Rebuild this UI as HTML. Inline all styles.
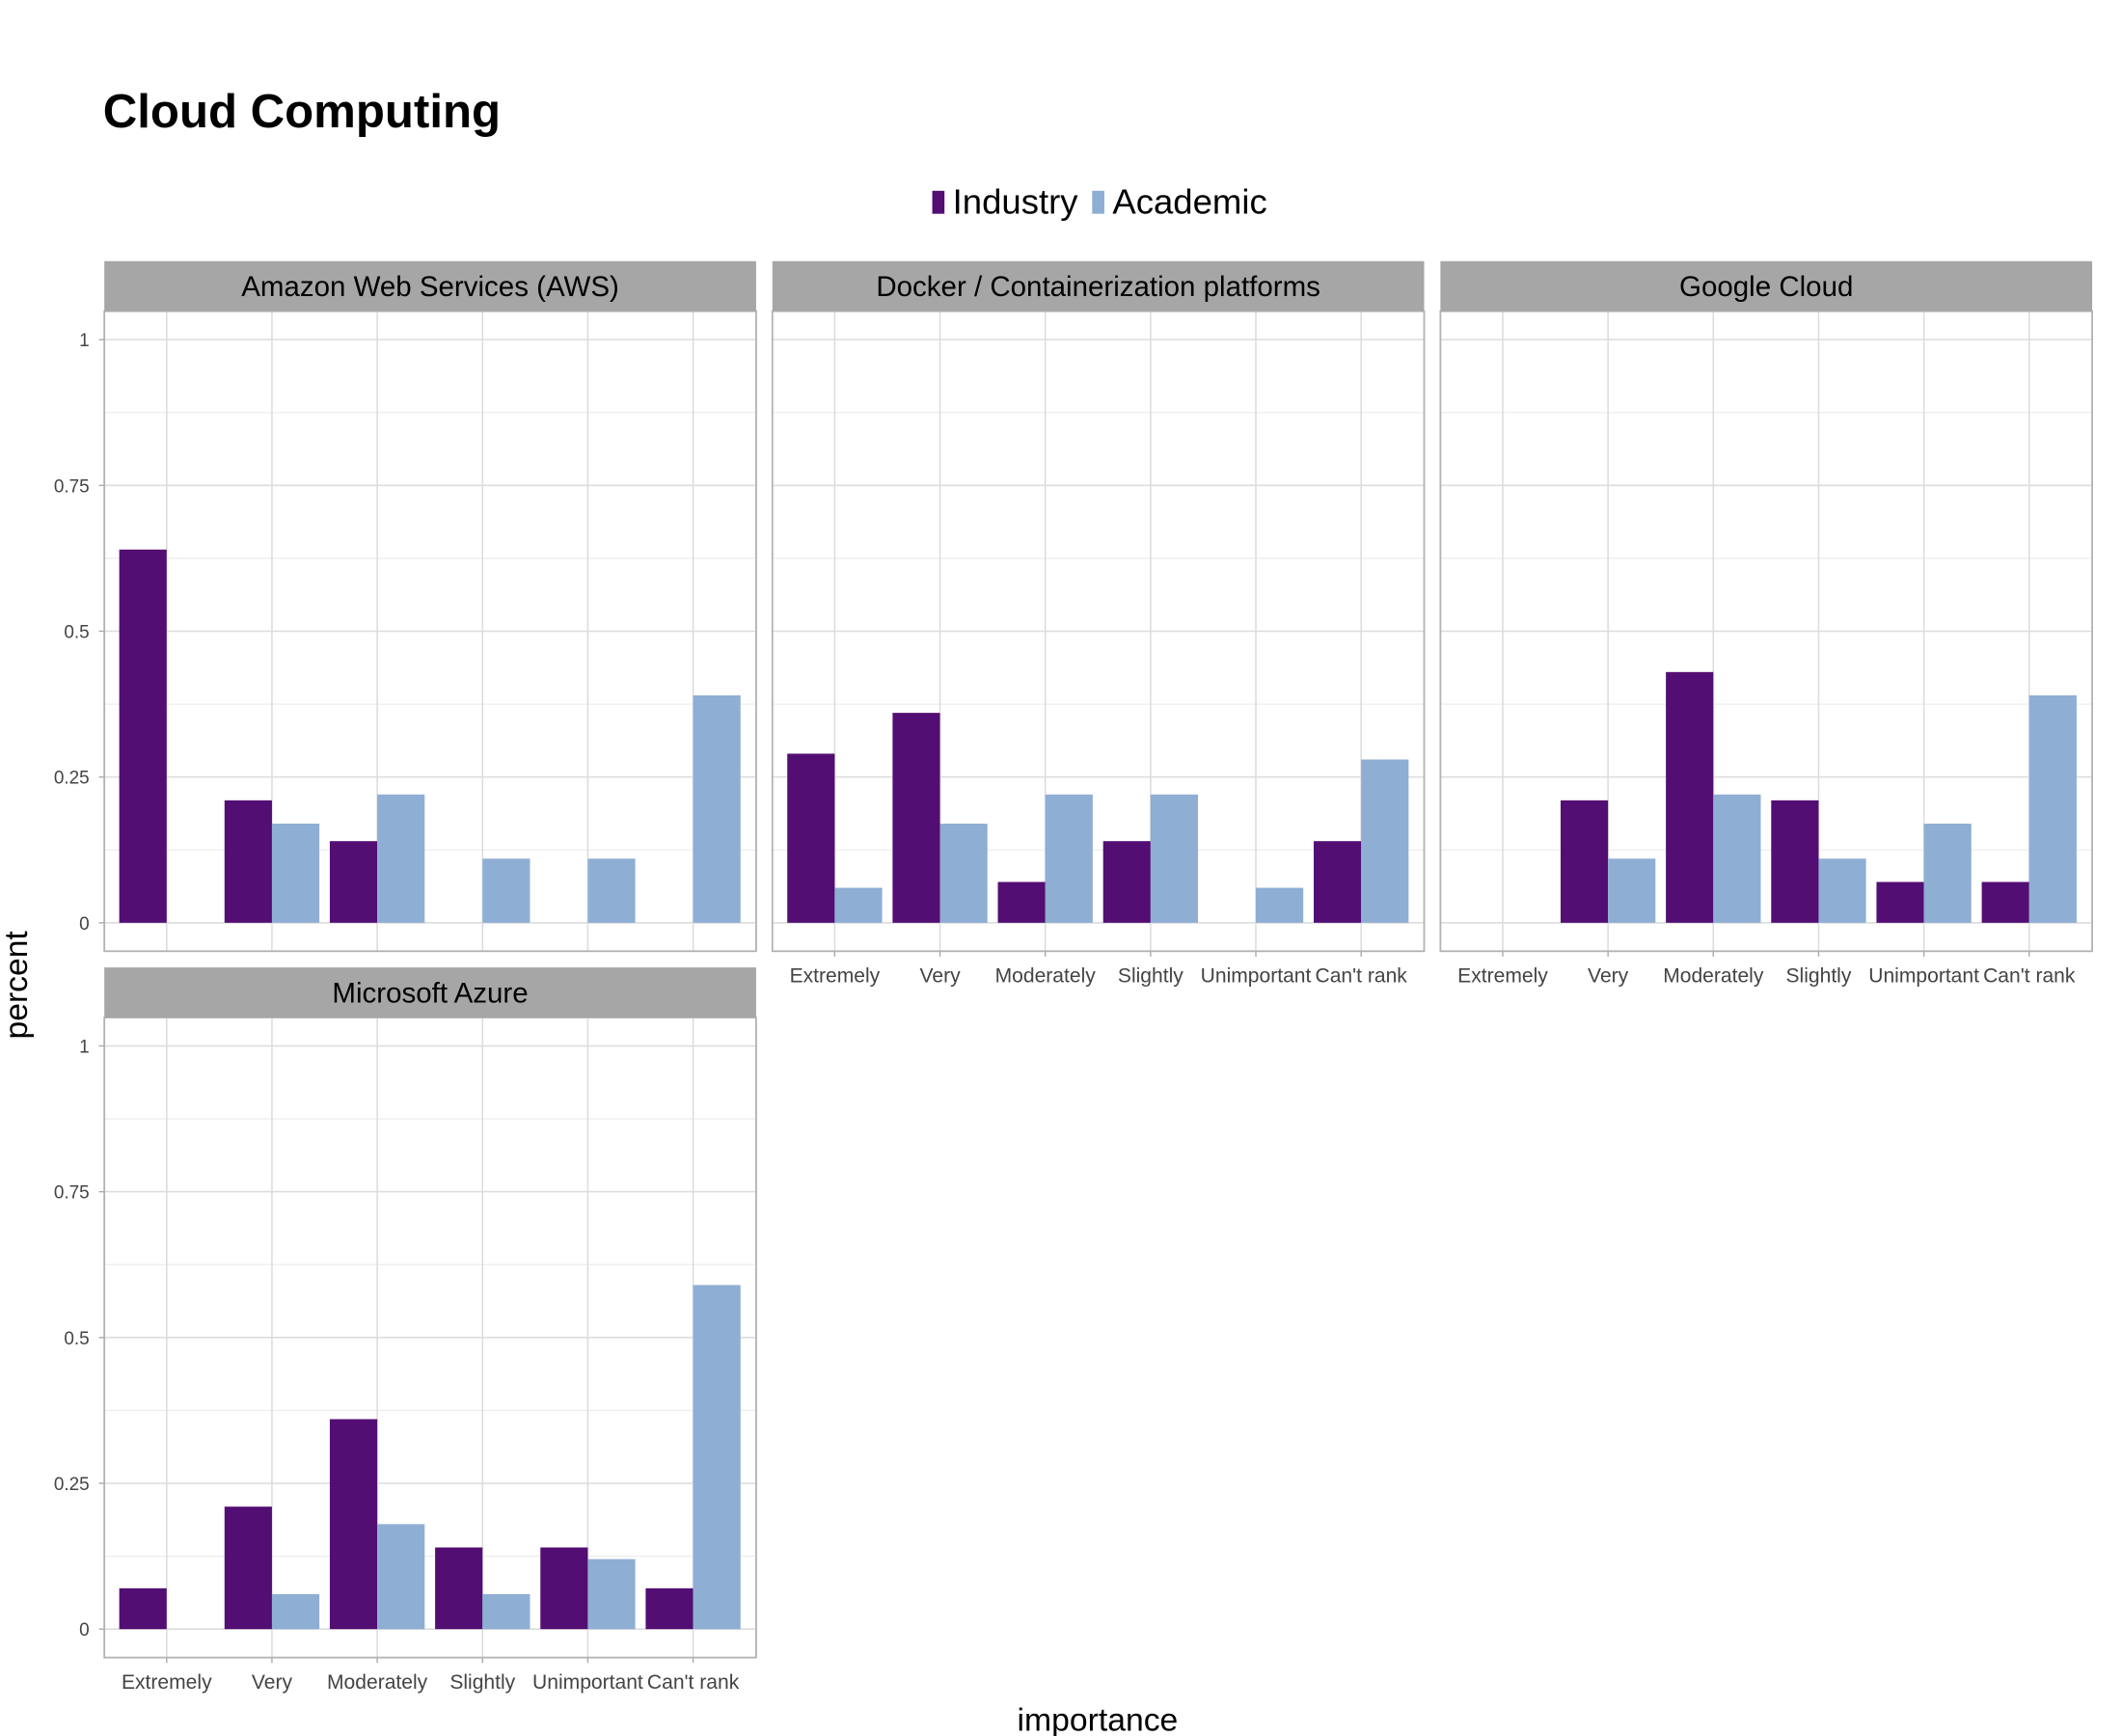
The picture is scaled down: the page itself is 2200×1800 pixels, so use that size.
<!DOCTYPE html>
<html><head><meta charset="utf-8"><style>
html,body{margin:0;padding:0;background:#fff;}
svg{display:block;font-family:"Liberation Sans",sans-serif;}
</style></head><body>
<svg id="chart" width="2200" height="1800" viewBox="0 0 1566 1283" preserveAspectRatio="none" xmlns="http://www.w3.org/2000/svg">
<text x="76" y="94" font-size="35" font-weight="bold" fill="#000">Cloud Computing</text>
<g>
<rect x="688" y="141" width="9" height="17" fill="#530e73"/>
<text x="703" y="158" font-size="26">Industry</text>
<rect x="806" y="141" width="9" height="17" fill="#8eaed4"/>
<text x="821" y="158" font-size="26">Academic</text>
</g>
<text transform="translate(20,728) rotate(-90)" text-anchor="middle" font-size="24">percent</text>
<text x="810" y="1279" text-anchor="middle" font-size="24">importance</text>
<g id="panels"></g>
</svg>
<script>
const categories = ["Extremely","Very","Moderately","Slightly","Unimportant","Can't rank"];
const panelTitles = ["Amazon Web Services (AWS)","Docker / Containerization platforms","Google Cloud","Microsoft Azure"];
const awsIndustry = [0.64,0.21,0.14,0,0,0];
const awsAcademic = [0,0.17,0.22,0.11,0.11,0.39];
const dockerIndustry = [0.29,0.36,0.07,0.14,0,0.14];
const dockerAcademic = [0.06,0.17,0.22,0.22,0.06,0.28];
const googleIndustry = [0,0.21,0.43,0.21,0.07,0.07];
const googleAcademic = [0,0.11,0.22,0.11,0.17,0.39];
const azureIndustry = [0.07,0.21,0.36,0.14,0.14,0.07];
const azureAcademic = [0,0.06,0.18,0.06,0.12,0.59];
const yTicks = [0,0.25,0.5,0.75,1];
const yTickLabels = ["0","0.25","0.5","0.75","1"];

const NS="http://www.w3.org/2000/svg";
const root=document.getElementById('panels');
function mk(tag,attrs,parent){const e=document.createElementNS(NS,tag);for(const k in attrs)e.setAttribute(k,attrs[k]);(parent||root).appendChild(e);return e;}

const panels=[
 {title:panelTitles[0],ind:awsIndustry,aca:awsAcademic,x0:77,y0:193,xlab:false},
 {title:panelTitles[1],ind:dockerIndustry,aca:dockerAcademic,x0:570,y0:193,xlab:true},
 {title:panelTitles[2],ind:googleIndustry,aca:googleAcademic,x0:1063,y0:193,xlab:true},
 {title:panelTitles[3],ind:azureIndustry,aca:azureAcademic,x0:77,y0:715,xlab:true}
];
const W=481, stripH=37, plotH=473;
panels.forEach((p,pi)=>{
 const g=mk('g',{});
 
 
 const top=p.y0+stripH;
 const yScale=v=>top+452-v*431;
 const xScale=i=>p.x0+46+i*77.7;
 [0.125,0.375,0.625,0.875].forEach(v=>{
  const l=mk('line',{x1:p.x0,x2:p.x0+W,y1:yScale(v),y2:yScale(v),stroke:'#ebebeb','stroke-width':0.8},g);
  
  
 });
 yTicks.forEach((v,i)=>{
  const l=mk('line',{x1:p.x0,x2:p.x0+W,y1:yScale(v),y2:yScale(v),stroke:'#dcdcdc','stroke-width':1.1},g);
  
  
  if(p.x0===77){
   const t=mk('text',{x:p.x0-11,y:yScale(v)+5,'text-anchor':'end','font-size':13.5,fill:'#444'},g);
   t.textContent=yTickLabels[i];
   
   
   const tk=mk('line',{x1:p.x0-4,x2:p.x0,y1:yScale(v),y2:yScale(v),stroke:'#aaa'},g);
   
   
  }
 });
 categories.forEach((c,i)=>{
  const cx=xScale(i);
  const l=mk('line',{x1:cx,x2:cx,y1:top,y2:top+plotH,stroke:'#dcdcdc','stroke-width':1.1},g);
  
  
  const b1=mk('rect',{x:cx-35,y:yScale(p.ind[i]),width:35,height:p.ind[i]*431,fill:'#530e73'},g);
  
  
  const b2=mk('rect',{x:cx,y:yScale(p.aca[i]),width:35,height:p.aca[i]*431,fill:'#8eaed4'},g);
  
  
  if(p.xlab){
   const tk=mk('line',{x1:cx,x2:cx,y1:top+plotH,y2:top+plotH+4,stroke:'#aaa'},g);
   
   
   const t=mk('text',{x:cx,y:top+plotH+23,'text-anchor':'middle','font-size':15,fill:'#444'},g);
   t.textContent=c;
   
   
  }
 });
 const border=mk('rect',{x:p.x0,y:top,width:W,height:plotH,fill:'none',stroke:'#b3b3b3','stroke-width':1.3},g);
 
 
 const strip=mk('rect',{x:p.x0,y:p.y0,width:W,height:stripH,fill:'#a6a6a6'},g);
 
 
 const st=mk('text',{x:p.x0+W/2,y:p.y0+26,'text-anchor':'middle','font-size':21,fill:'#000'},g);
 st.textContent=p.title;
 
 
});
</script>
</body></html>
